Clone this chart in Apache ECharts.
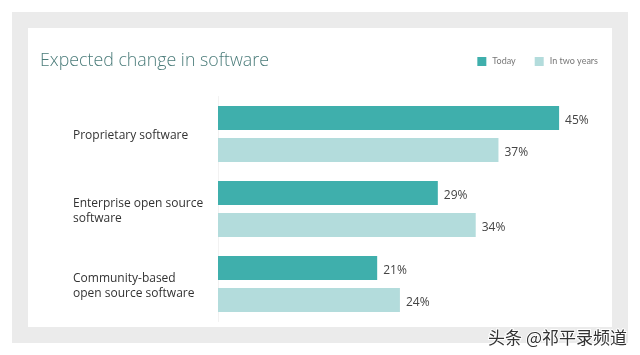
<!DOCTYPE html>
<html><head><meta charset="utf-8">
<script src="https://cdn.jsdelivr.net/npm/echarts@6/dist/echarts.min.js"></script>
<style>html,body{margin:0;padding:0;background:#fff}#c{width:640px;height:355px}</style>
</head><body><div id="c"></div>
<script>
const categories = ['Proprietary software', 'Enterprise open source\nsoftware', 'Community-based\nopen source software'];
const today = [45, 29, 21];
const inTwoYears = [37, 34, 24];
const seriesNames = ['Today', 'In two years'];

const chart = echarts.init(document.getElementById('c'));
chart.setOption({
  animation: false,
  backgroundColor: '#fff',
  graphic: [
    { type: 'rect', silent: true, z: -10, shape: { x: 12, y: 12, width: 616, height: 331 }, style: { fill: '#ebebeb' } },
    { type: 'rect', silent: true, z: -9, shape: { x: 28, y: 28, width: 584, height: 299 }, style: { fill: '#ffffff' } },
    { type: 'text', left: 40, top: 52, style: { text: 'Expected change in software', font: '300 17.8px "Open Sans"', fill: '#4b7c7a' } },
    { type: 'text', right: 12, top: 328, z: 100, style: { text: '头条 @祁平录频道', font: '17px "Noto Sans CJK SC"', fill: '#333', stroke: '#fff', lineWidth: 2 } }
  ],
  legend: {
    data: seriesNames,
    right: 37, top: 52,
    itemWidth: 9, itemHeight: 9, itemGap: 19,
    icon: 'rect',
    textStyle: { fontSize: 9, color: '#777', fontFamily: 'Lato', padding: [0, 0, 0, 1] }
  },
  grid: { left: 218, top: 96.5, width: 379, height: 225, containLabel: false },
  xAxis: {
    type: 'value', min: 0, max: 50, show: false
  },
  yAxis: {
    type: 'category', data: categories, inverse: true,
    axisLine: { show: true, lineStyle: { color: '#f2f2f2', width: 1 } },
    axisTick: { show: false },
    axisLabel: {
      align: 'left', margin: 145,
      formatter: function (v) { return '{a|' + v.split('\n').join('}\n{a|') + '}'; },
      rich: { a: { fontSize: 12, lineHeight: 15, color: '#333', fontFamily: 'Open Sans', padding: [4, 0, 0, 0] } }
    }
  },
  series: [
    { name: seriesNames[0], type: 'bar', data: today, barWidth: 24, barGap: '33%',
      itemStyle: { color: '#3fafac' },
      label: { show: true, position: 'right', distance: 6, offset: [0, 3], formatter: '{c}%', fontSize: 12, color: '#444', fontFamily: 'Open Sans' } },
    { name: seriesNames[1], type: 'bar', data: inTwoYears, barWidth: 24,
      itemStyle: { color: '#b3dcdc' },
      label: { show: true, position: 'right', distance: 6, offset: [0, 3], formatter: '{c}%', fontSize: 12, color: '#444', fontFamily: 'Open Sans' } }
  ]
});
</script></body></html>
